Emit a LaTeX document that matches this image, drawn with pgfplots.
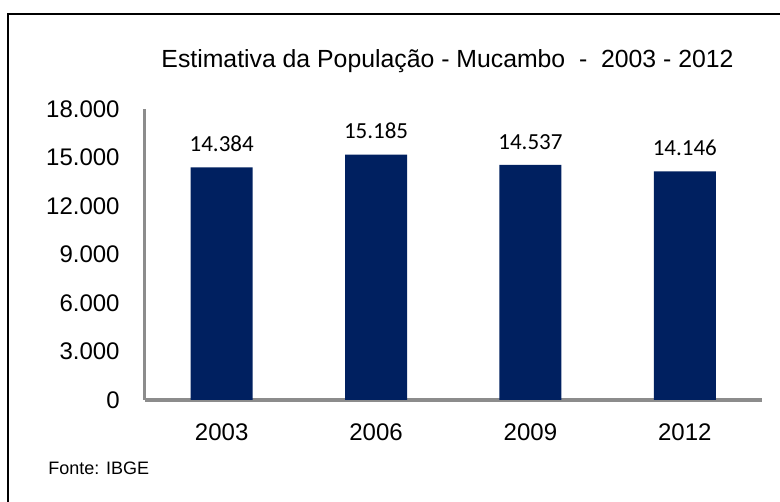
\documentclass[border=0pt]{standalone}
\usepackage{fontspec}
\setmainfont{Liberation Sans}
\newfontfamily\carlito{Carlito}
\usepackage{pgfplots}
\pgfplotsset{compat=1.18}
\definecolor{barblue}{RGB}{0,32,96}
\definecolor{axgrey}{RGB}{140,140,140}
\begin{document}
\begin{tikzpicture}
\useasboundingbox (0,0) rectangle (390pt,251pt);
\draw[black, line width=0.6pt] (4pt,0pt) -- (4pt,244pt) -- (390pt,244pt);
\node[font=\fontsize{12.4}{14}\selectfont] at (223.75pt,220.5pt) {Estimativa da População - Mucambo\ \ -\ \ 2003 - 2012};
\node[font=\fontsize{9}{11}\selectfont, anchor=west, inner sep=0pt] at (24pt,16.75pt) {Fonte: IBGE};
\begin{axis}[
  at={(72.25pt,51pt)}, anchor=south west,
  scale only axis, width=308.75pt, height=145.5pt,
  xmin=-0.5, xmax=3.5, ymin=0, ymax=18000,
  axis x line*=bottom, axis y line*=left,
  axis line style={axgrey, line width=1.75pt},
  ytick={0,3000,6000,9000,12000,15000,18000},
  xtick={0,1,2,3}, xticklabels={2003,2006,2009,2012},
  tick style={draw=none}, major tick length=0pt,
  ticklabel style={font=\fontsize{12}{14}\selectfont, inner sep=0pt},
  yticklabel shift=12.25pt, xticklabel shift=11.5pt,
  scaled y ticks=false,
  yticklabel style={/pgf/number format/1000 sep={.}},
  /pgf/number format/assume math mode=true,
  ybar, bar width=31pt,
  nodes near coords,
  nodes near coords style={font=\carlito\fontsize{11.5}{13}\selectfont, inner sep=0pt, anchor=south, yshift=7.5pt, /pgf/number format/1000 sep={.}},
  clip=false,
]
\addplot[fill=barblue, draw=none] coordinates {(0,14384) (1,15185) (2,14537) (3,14146)};
\end{axis}
\end{tikzpicture}
\end{document}
